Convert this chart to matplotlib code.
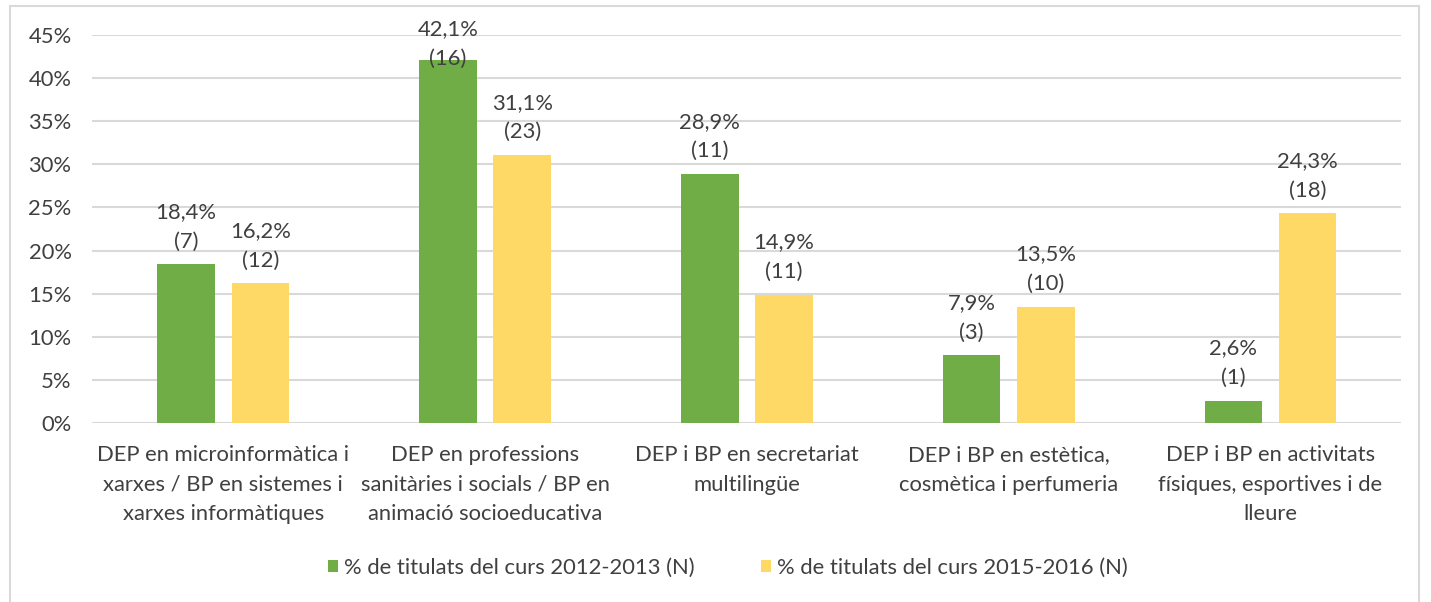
import matplotlib
matplotlib.use("Agg")
import matplotlib.pyplot as plt
from matplotlib.patches import Rectangle
import numpy as np

categories = [
    "DEP en microinformàtica i\nxarxes / BP en sistemes i\nxarxes informàtiques",
    "DEP en professions\nsanitàries i socials / BP en\nanimació socioeducativa",
    "DEP i BP en secretariat\nmultilingüe",
    "DEP i BP en estètica,\ncosmètica i perfumeria",
    "DEP i BP en activitats\nfísiques, esportives i de\nlleure",
]
pct_2012 = [18.4, 42.1, 28.9, 7.9, 2.6]
n_2012 = [7, 16, 11, 3, 1]
pct_2015 = [16.2, 31.1, 14.9, 13.5, 24.3]
n_2015 = [12, 23, 11, 10, 18]
series_names = ["% de titulats del curs 2012-2013 (N)", "% de titulats del curs 2015-2016 (N)"]
yticks = [0, 5, 10, 15, 20, 25, 30, 35, 40, 45]

GREEN = "#70AD47"
YELLOW = "#FFD966"
TEXT = "#404040"
GRID = "#D9D9D9"

plt.rcParams["font.family"] = ["Lato", "DejaVu Sans"]
FS = 15.8
LS = 1.6

W, H = 1431, 602
fig = plt.figure(figsize=(W / 100, H / 100), dpi=100)
fig.patch.set_facecolor("white")
fig.add_artist(Rectangle((10 / W, -0.01), 1419 / W - 10 / W, 1 - 6 / H + 0.01,
                         transform=fig.transFigure, fill=False, edgecolor=GRID, linewidth=1.5))

ax = fig.add_axes([92.4 / W, 1 - 423 / H, 1309 / W, 388 / H])
x = np.arange(len(categories))
w = 0.22
off = 0.142
b1 = ax.bar(x - off, pct_2012, w, color=GREEN, label=series_names[0], zorder=3)
b2 = ax.bar(x + off, pct_2015, w, color=YELLOW, label=series_names[1], zorder=3)

ax.set_xlim(-0.5, len(categories) - 0.5)
ax.set_ylim(0, 45)
ax.set_yticks(yticks)
ax.set_yticklabels([f"{v}%" for v in yticks])
ax.set_xticks(x)
ax.set_xticklabels(categories, linespacing=LS)
ax.tick_params(axis="both", length=0, labelsize=FS, colors=TEXT)
ax.tick_params(axis="y", pad=15)
ax.tick_params(axis="x", pad=16)
ax.grid(axis="y", color=GRID, linewidth=1.5, zorder=0)
for s in ax.spines.values():
    s.set_visible(False)

labels = []
for bars, pcts, ns in ((b1, pct_2012, n_2012), (b2, pct_2015, n_2015)):
    for r, p, n in zip(bars, pcts, ns):
        lab = f"{p:.1f}".replace(".", ",") + f"%\n({n})"
        a = ax.annotate(lab, (r.get_x() + r.get_width() / 2, r.get_height()),
                        xytext=(0, 9), textcoords="offset points", ha="center", va="bottom",
                        fontsize=FS, color=TEXT, linespacing=LS, zorder=4,
                        annotation_clip=False)
        labels.append(a)

# keep labels inside the chart area (as the original software does)
fig.canvas.draw()
renderer = fig.canvas.get_renderer()
top_limit = H - 19
for a in labels:
    bb = a.get_window_extent(renderer)
    if bb.y1 > top_limit:
        shift_px = bb.y1 - top_limit
        a.xyann = (0, 9 - shift_px * 72 / 100)

fig.legend(handles=[b1, b2], labels=series_names, loc="center",
           bbox_to_anchor=(728 / W, 1 - 567.5 / H), ncol=2, frameon=False,
           fontsize=FS, labelcolor=TEXT, handlelength=0.45, handleheight=0.45,
           handletextpad=0.3, columnspacing=3.0)

fig.savefig("out.png", dpi=100, facecolor="white")
